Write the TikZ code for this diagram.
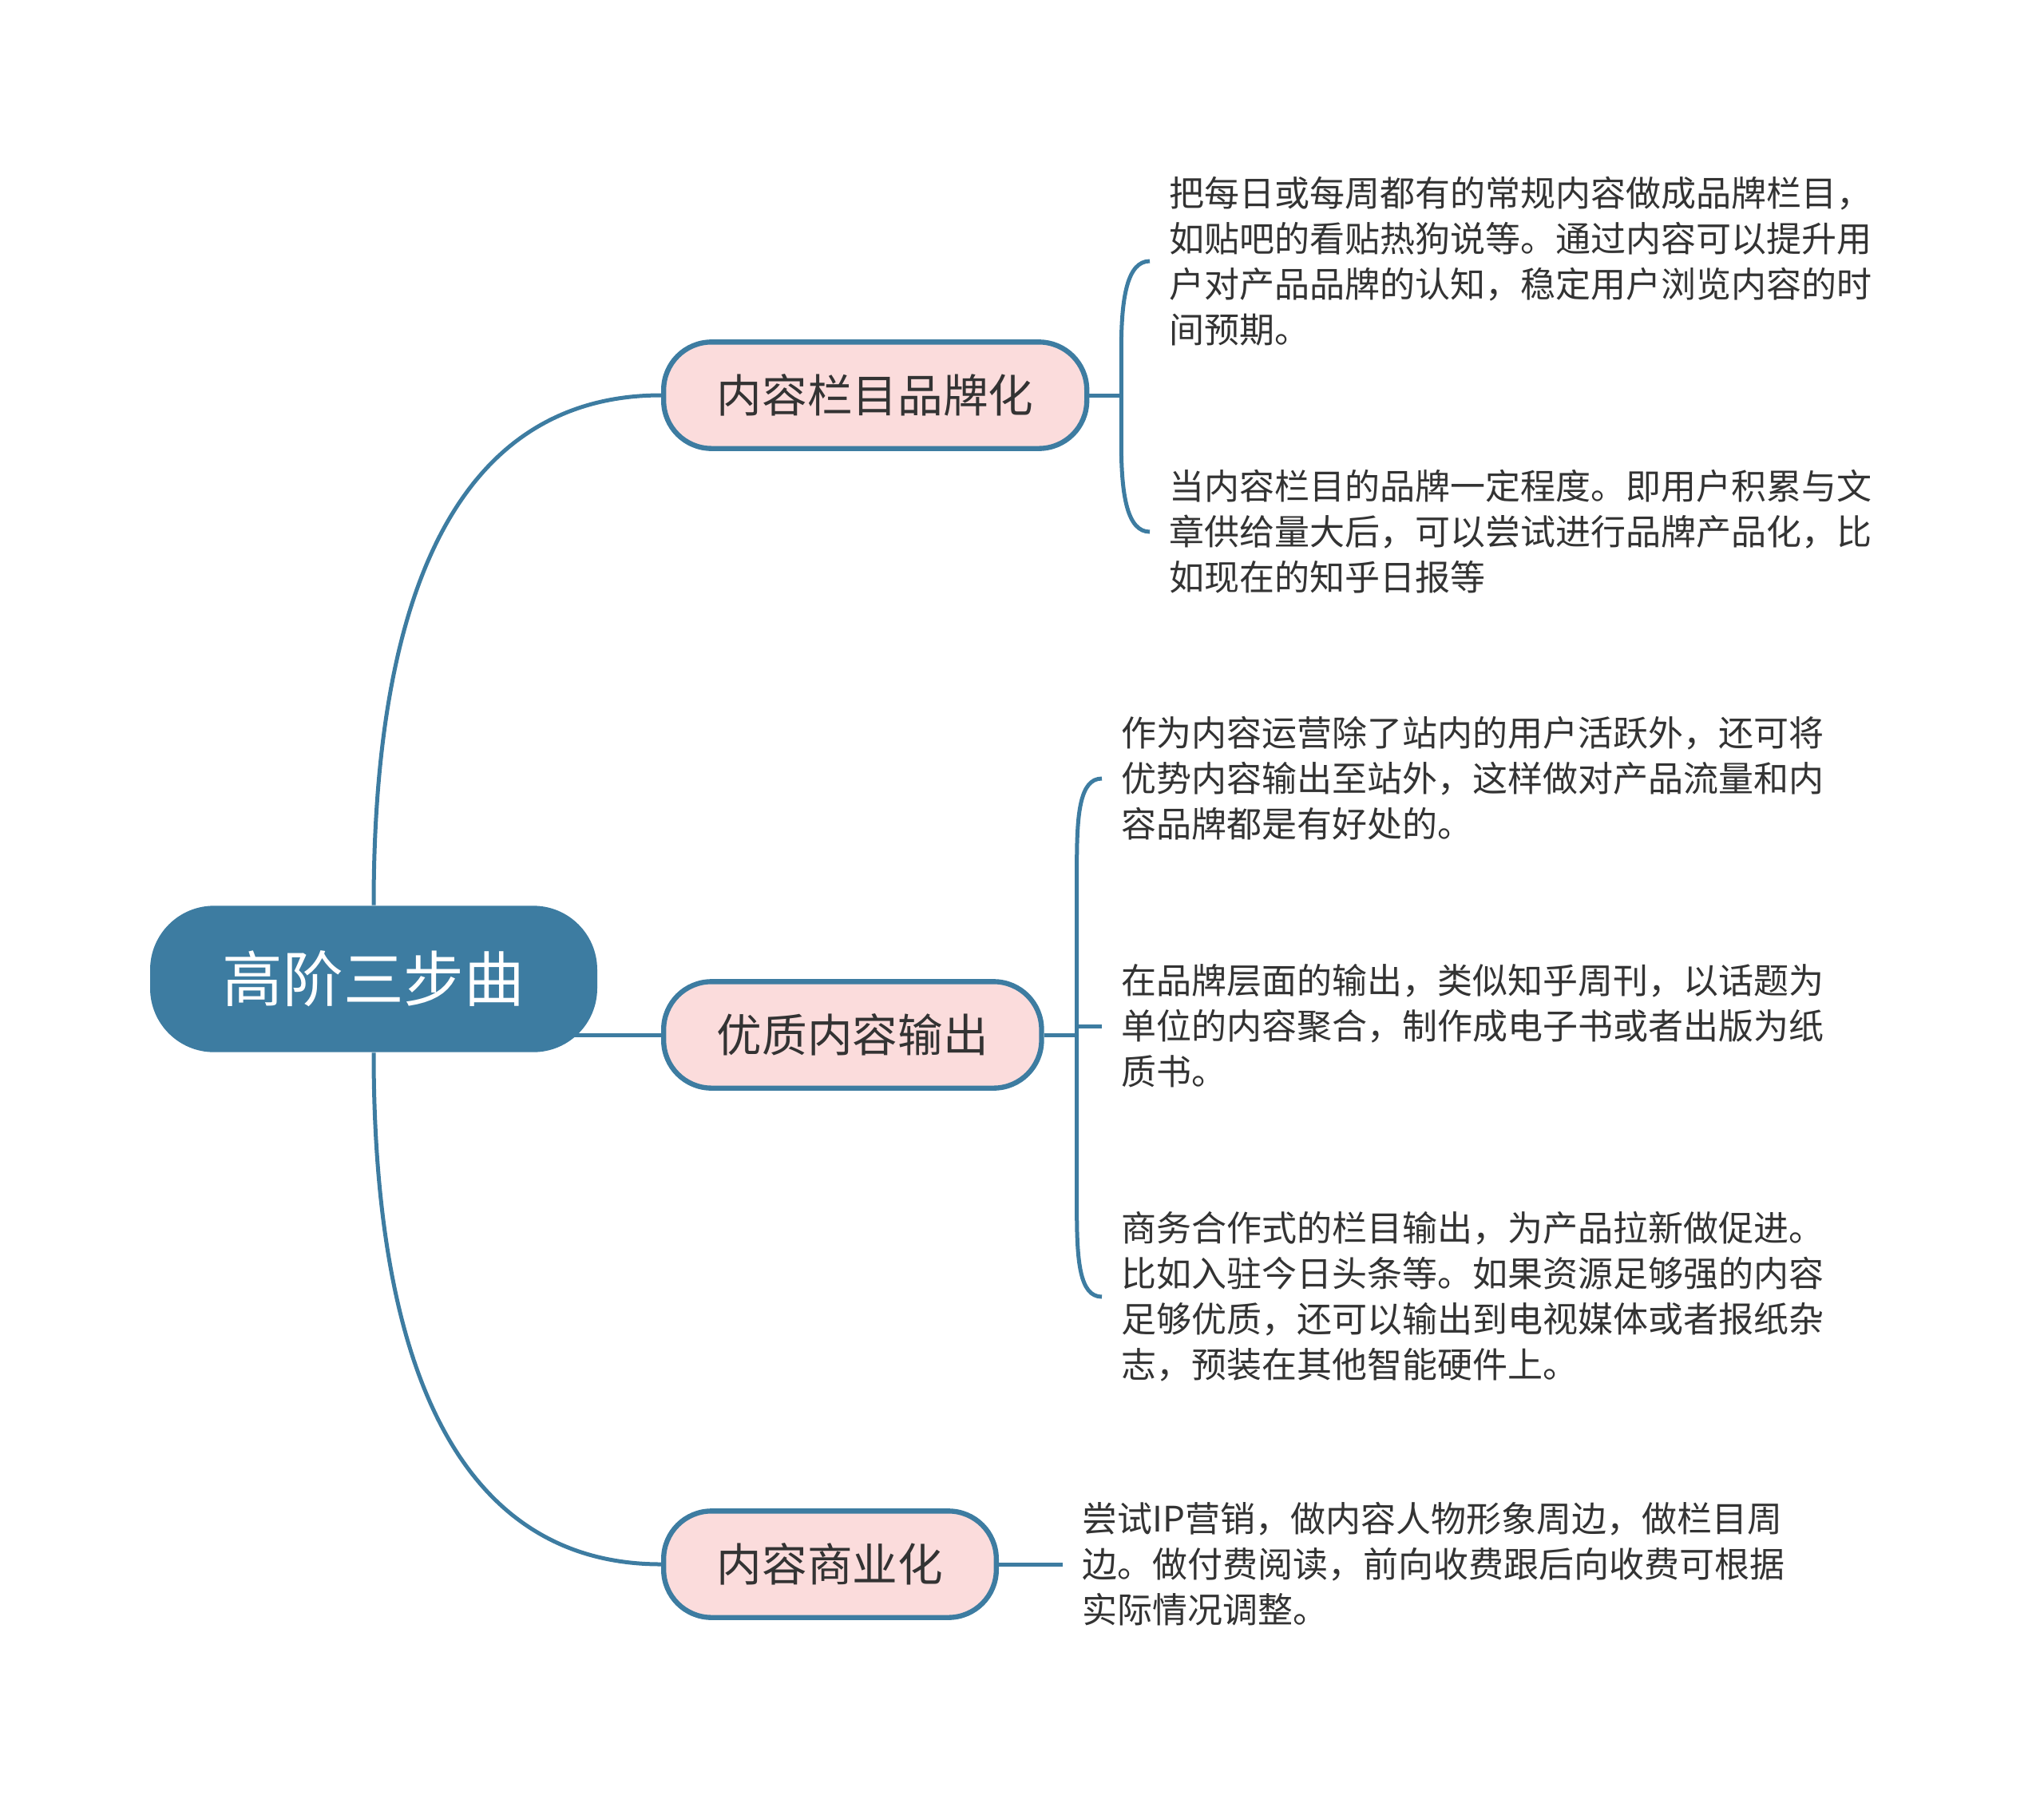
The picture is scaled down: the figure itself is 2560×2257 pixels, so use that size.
\documentclass[tikz,border=0pt]{standalone}
\usepackage{fontspec}
\setmainfont{Noto Sans CJK SC}
\usepackage{xcolor}
\usepackage{tikz}
\usetikzlibrary{calc,backgrounds}

\definecolor{mapblue}{HTML}{3D7CA1}
\definecolor{mappink}{HTML}{FBDCDC}
\definecolor{mapink}{HTML}{333333}

\begin{document}
\begin{tikzpicture}[
  x=0.3pt,y=-0.3pt,
  every node/.style={text=mapink},
  root/.style={fill=mapblue,text=white,rounded corners=24pt,
    minimum width=168pt,minimum height=55pt,
    font=\fontsize{22.7pt}{27pt}\selectfont},
  branch/.style={draw=mapblue,line width=1.9pt,fill=mappink,rounded corners=18pt,
    anchor=west,minimum height=40pt,inner xsep=20pt,
    font=\fontsize{17pt}{20pt}\selectfont},
  leaf/.style={anchor=west,align=left,inner xsep=7.2pt,
    font=\fontsize{13.2pt}{17.1pt}\selectfont},
  link/.style={draw=mapblue,line width=1.5pt}
]
\useasboundingbox (0,0) rectangle (2560,2257);

\node[root] (root) at (468,1226) {高阶三步曲};
\node[branch] (b1) at (828,495) {内容栏目品牌化};
\node[branch] (b2) at (828,1296) {优质内容输出};
\node[branch] (b3) at (828,1959) {内容商业化};

\coordinate (k1) at ($(b1.east)+(40,0)$);
\coordinate (k2) at ($(b2.east)+(41,0)$);

\node[leaf] (t1a) at (1440,327) {把每日或每周都有的常规内容做成品牌栏目，\\如贴吧的看贴热狗说等。通过内容可以提升用\\户对产品品牌的认知，稳定用户浏览内容的时\\间预期。};
\node[leaf] (t1b) at (1440,666) {当内容栏目的品牌一定程度。即用户积累与文\\章供给量大后，可以尝试进行品牌产品化，比\\如现在的知乎日报等};
\node[leaf] (t2a) at (1380,975) {作为内容运营除了站内的用户活跃外，还可将\\优势内容输出至站外，这样做对产品流量和内\\容品牌都是有好处的。};
\node[leaf] (t2b) at (1380,1285) {在品牌层面的输出，类似知乎周刊，以话题为\\单位的内容聚合，制作成电子书或者出版为纸\\质书。};
\node[leaf] (t2c) at (1380,1624) {商务合作式的栏目输出，为产品拉新做促进。\\比如入驻今日头条等。如果资源足够强的内容\\足够优质，还可以输出到电视媒体或者报纸杂\\志，预装在其他智能硬件上。};
\node[leaf] (t3) at ($(b3.east)+(80,0)$) {尝试IP营销，做内容人物形象周边，做栏目周\\边。做付费阅读，前向收费跟后向收费可根据\\实际情况调整。};

\begin{scope}[on background layer]
% root to branches
\draw[link] (root.north) .. controls +(0,-435) and +(-230,0) .. (b1.west);
\draw[link] (root.center |- b2.west) -- (b2.west);
\draw[link] (root.south) .. controls +(0,435) and +(-230,0) .. (b3.west);
% brackets (s = +1 above, -1 below)
\draw[link] (b1.east) -- (k1);
\foreach \t/\s in {t1a/1,t1b/-1}
  \draw[link] (k1) -- ($(k1 |- \t.west)+(0,{110*\s})$)
    .. controls +(0,{-65*\s}) and +(-28,0) .. (\t.west);
\draw[link] (b2.east) -- (k2);
\foreach \t/\s in {t2a/1,t2c/-1}
  \draw[link] (k2) -- ($(k2 |- \t.west)+(0,{110*\s})$)
    .. controls +(0,{-65*\s}) and +(-28,0) .. (\t.west);
\draw[link] (k2 |- t2b.west) -- (t2b.west);
\draw[link] (b3.east) -- (t3.west);
\end{scope}
\end{tikzpicture}
\end{document}
